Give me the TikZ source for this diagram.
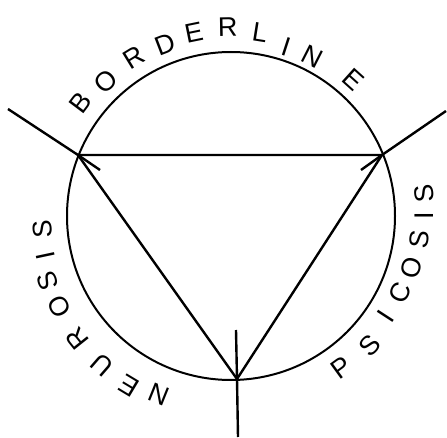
\documentclass[tikz,border=0pt]{standalone}
\usepackage{fontspec}
\setmainfont{Liberation Sans}
\usetikzlibrary{calc}
\tikzset{
  ring/.style={line width=2pt},
  edge/.style={line width=2.4pt},
  letter/.style={font=\fontsize{27}{27}\selectfont,inner sep=0pt}
}
\begin{document}
\begin{tikzpicture}[x=1pt,y=1pt]
\useasboundingbox (0,0) rectangle (447,437);
% centre and the three vertices
\coordinate (o) at (231,221);
\coordinate (tl) at (78,282);
\coordinate (tr) at (382,282);
\coordinate (bt) at (237,58);
% free ends of the three crossing strokes
\coordinate (tlout) at (8,328);  \coordinate (tlin) at (100,267);
\coordinate (trout) at (446,326); \coordinate (trin) at (361,267);
\coordinate (btin) at (236,107); \coordinate (btout) at (238,0);
\draw[ring] (o) circle (164);
\draw[edge,line join=round] (tl) -- (tr) -- (bt) -- cycle;
\draw[edge] (tlout) -- (tl) -- (tlin);
\draw[edge] (trout) -- (tr) -- (trin);
\draw[edge] (btin) -- (bt) -- (btout);
% lettering round the ring
\foreach \ch/\a/\r in {B/143/189,O/133/184,R/121.5/186,D/111/184,E/101.5/187,
                       R/91/189,L/81/186,I/72/178,N/63/179,E/48/183}
  \node[letter,rotate=\a-90] at ($(o)+(\a:\r)$) {\ch};
\foreach \ch/\a/\r in {N/248/192,E/239/198,U/229/197,R/218.5/197,O/208/194,
                       S/199.5/194,I/192/190,S/184/189}
  \node[letter,rotate=\a-90] at ($(o)+(\a:\r)$) {\ch};
\foreach \ch/\a/\r in {P/-54/187,S/-43/190,I/-33/185,C/-24.5/186,O/-16/188,
                       S/-7/190,I/0/193,S/6.5/195}
  \node[letter,rotate=\a+90] at ($(o)+(\a:\r)$) {\ch};
\end{tikzpicture}
\end{document}
